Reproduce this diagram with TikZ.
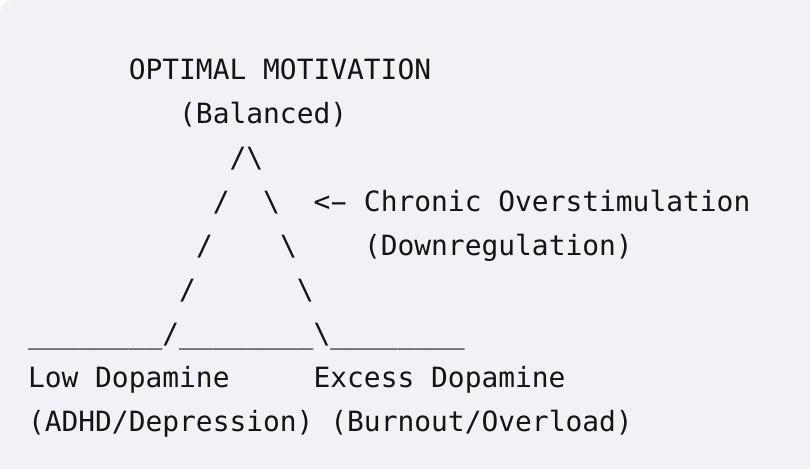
\documentclass[tikz,border=0pt]{standalone}
\usepackage{fontspec}
\usepackage{graphicx}
\setmonofont{DejaVu Sans Mono}
\definecolor{bgcol}{RGB}{240,242,245}
\definecolor{txtcol}{RGB}{20,20,20}
\newcommand{\widehyph}{\makebox[0.602em][c]{\scalebox{1.9}[1]{-}}}
\begin{document}
\begin{tikzpicture}[x=1pt,y=1pt,
  asc/.style={anchor=base west,inner sep=0pt,outer sep=0pt,text=txtcol,
    font=\ttfamily\fontsize{27.9}{33}\selectfont}]
\useasboundingbox (0,0) rectangle (810,-469);
\fill[white] (0,0) rectangle (810,-469);
\fill[bgcol] (0,-469) -- (0,-12) arc[start angle=180,end angle=90,radius=12] -- (810,0) -- (810,-469) -- cycle;
\def\cw{16.8}
\def\xo{28}
\node[asc] (top) at ({\xo+6*\cw},-79) {OPTIMAL MOTIVATION};
\node[asc] (bal) at ({\xo+9*\cw},-123) {(Balanced)};
\node[asc] (apex) at ({\xo+12*\cw},-167) {/\textbackslash};
\node[asc] (l3a) at ({\xo+11*\cw},-211) {/};
\node[asc] (l3b) at ({\xo+14*\cw},-211) {\textbackslash};
\node[asc] (chronic) at ({\xo+17*\cw},-211) {<\widehyph{} Chronic Overstimulation};
\node[asc] (l4a) at ({\xo+10*\cw},-255) {/};
\node[asc] (l4b) at ({\xo+15*\cw},-255) {\textbackslash};
\node[asc] (down) at ({\xo+20*\cw},-255) {(Downregulation)};
\node[asc] (l5a) at ({\xo+9*\cw},-299) {/};
\node[asc] (l5b) at ({\xo+16*\cw},-299) {\textbackslash};
\node[asc] (base) at ({\xo},-343) {\_\_\_\_\_\_\_\_/\_\_\_\_\_\_\_\_\textbackslash\_\_\_\_\_\_\_\_};
\node[asc] (low) at ({\xo},-387) {Low Dopamine};
\node[asc] (excess) at ({\xo+17*\cw},-387) {Excess Dopamine};
\node[asc] (adhd) at ({\xo},-431) {(ADHD/Depression)};
\node[asc] (burn) at ({\xo+18*\cw},-431) {(Burnout/Overload)};
\end{tikzpicture}
\end{document}
